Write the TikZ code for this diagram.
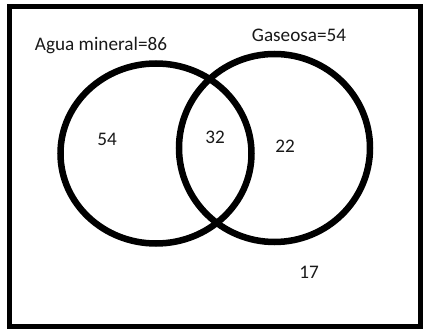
\documentclass[tikz,border=0pt]{standalone}
\usepackage{fontspec}
\setmainfont{Carlito}
\begin{document}
\begin{tikzpicture}[x=1pt,y=-1pt,
  frame/.style={draw=black,line width=5pt},
  setc/.style={draw=black,line width=6.5pt},
  lbl/.style={font=\fontsize{19.2}{22}\selectfont,text=black!90,inner sep=0pt}]
\useasboundingbox (0,0) rectangle (424,329);
\fill[white] (0,0) rectangle (424,329);
\draw[frame] (9,7) rectangle (420,326);
\draw[setc] (156,153.5) ellipse [x radius=95.5, y radius=90];
\draw[setc] (274.5,148) ellipse [x radius=95.5, y radius=94];
\node[lbl] (a) at (101,45) {Agua mineral=86};
\node[lbl] (g) at (299,35) {Gaseosa=54};
\node[lbl] (n1) at (107,139) {54};
\node[lbl] (n2) at (215,137) {32};
\node[lbl] (n3) at (285,146) {22};
\node[lbl] (n4) at (309,272) {17};
\end{tikzpicture}
\end{document}
